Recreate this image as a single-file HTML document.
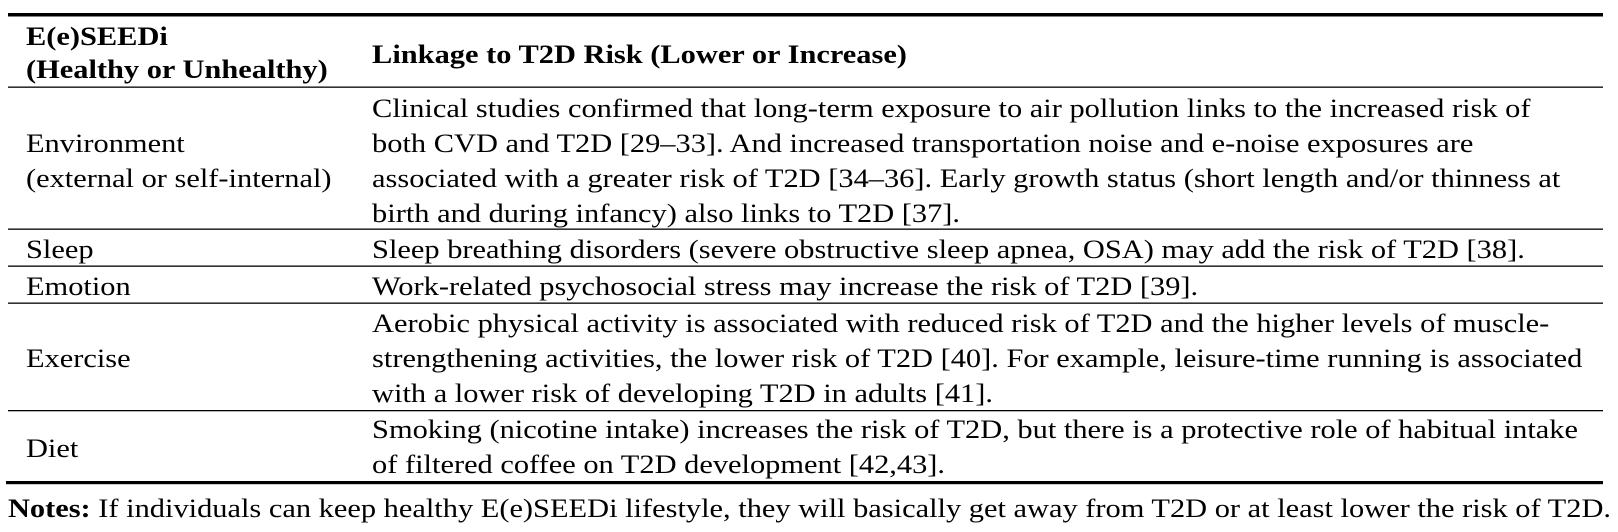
<!DOCTYPE html>
<html><head><meta charset="utf-8"><style>
html,body{margin:0;padding:0;background:#fff;width:1618px;height:532px;overflow:hidden}
svg text{font-family:"Liberation Serif","Times New Roman",serif;font-size:26px;fill:#000}
.b{font-weight:bold}
</style></head><body>
<svg width="1618" height="532" xmlns="http://www.w3.org/2000/svg">
<rect x="8" y="13" width="1595" height="3.5" fill="#000"/>
<rect x="8" y="86.5" width="1595" height="1.3" fill="#000"/>
<rect x="8" y="228.5" width="1595" height="1.3" fill="#000"/>
<rect x="8" y="265.5" width="1595" height="1.3" fill="#000"/>
<rect x="8" y="302.5" width="1595" height="1.3" fill="#000"/>
<rect x="8" y="410" width="1595" height="1.3" fill="#000"/>
<rect x="6" y="481" width="1597" height="3.2" fill="#000"/>
<g transform="scale(1.17,1)">
<text x="22.2" y="45" class="b">E(e)SEEDi</text>
<text x="22.2" y="78" class="b">(Healthy or Unhealthy)</text>
<text x="318" y="63" class="b">Linkage to T2D Risk (Lower or Increase)</text>

<text x="22.2" y="152">Environment</text>
<text x="22.2" y="187">(external or self-internal)</text>
<text x="318" y="117">Clinical studies confirmed that long-term exposure to air pollution links to the increased risk of</text>
<text x="318" y="152">both CVD and T2D [29–33]. And increased transportation noise and e-noise exposures are</text>
<text x="318" y="187">associated with a greater risk of T2D [34–36]. Early growth status (short length and/or thinness at</text>
<text x="318" y="222">birth and during infancy) also links to T2D [37].</text>

<text x="22.2" y="258">Sleep</text>
<text x="318" y="258">Sleep breathing disorders (severe obstructive sleep apnea, OSA) may add the risk of T2D [38].</text>

<text x="22.2" y="295">Emotion</text>
<text x="318" y="295">Work-related psychosocial stress may increase the risk of T2D [39].</text>

<text x="22.2" y="367">Exercise</text>
<text x="318" y="332">Aerobic physical activity is associated with reduced risk of T2D and the higher levels of muscle-</text>
<text x="318" y="367">strengthening activities, the lower risk of T2D [40]. For example, leisure-time running is associated</text>
<text x="318" y="402">with a lower risk of developing T2D in adults [41].</text>

<text x="22.2" y="457">Diet</text>
<text x="318" y="438">Smoking (nicotine intake) increases the risk of T2D, but there is a protective role of habitual intake</text>
<text x="318" y="473">of filtered coffee on T2D development [42,43].</text>

<text x="6.8" y="517"><tspan class="b">Notes:</tspan> If individuals can keep healthy E(e)SEEDi lifestyle, they will basically get away from T2D or at least lower the risk of T2D.</text>
</g>
</svg>
</body></html>
